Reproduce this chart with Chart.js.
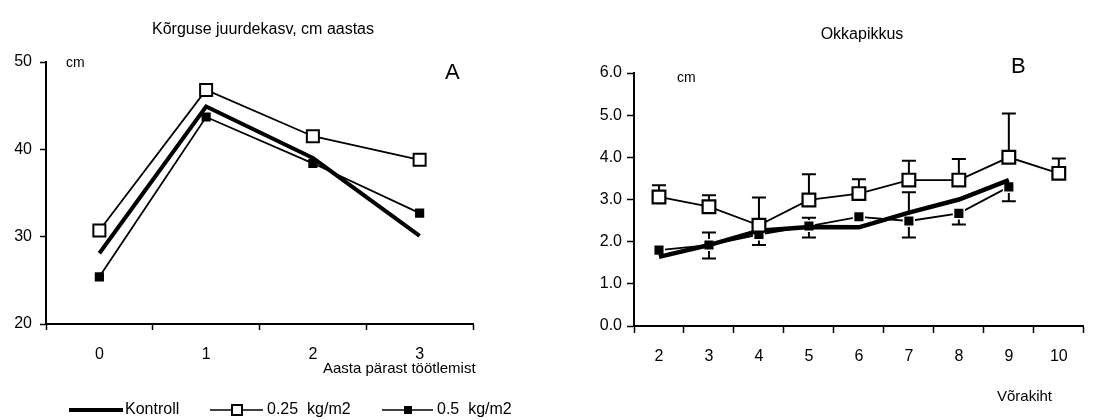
<!DOCTYPE html>
<html>
<head>
<meta charset="utf-8">
<script src="https://cdn.jsdelivr.net/npm/chart.js@4"></script>
<style>
  html, body { margin: 0; padding: 0; background: #fff; }
  #wrap { position: relative; width: 1095px; height: 420px; }
  canvas { position: absolute; top: 0; }
  #chartA { left: 0; }
  #chartB { left: 545px; }
</style>
</head>
<body>
<div id="wrap">
  <canvas id="chartA" width="545" height="420"></canvas>
  <canvas id="chartB" width="550" height="420"></canvas>
</div>
<script>
// A: height growth, cm per year
const yearsA = ['0', '1', '2', '3'];
const kontrollA = [28.1, 44.9, 39.0, 30.1];
const dose025A = [30.7, 46.8, 41.5, 38.8];
const dose05A = [25.4, 43.7, 38.4, 32.7];
const ticksA = [20, 30, 40, 50];

// B: needle length by crown layer
const layersB = ['2', '3', '4', '5', '6', '7', '8', '9', '10'];
const kontrollB = [1.64, 1.92, 2.26, 2.35, 2.34, 2.69, 3.0, 3.46, null];
const dose025B = [3.06, 2.83, 2.39, 2.99, 3.14, 3.46, 3.46, 4.0, 3.62];
const dose05B = [1.80, 1.92, 2.17, 2.37, 2.59, 2.49, 2.67, 3.30, null];
const err025Up = [0.28, 0.27, 0.66, 0.61, 0.34, 0.46, 0.50, 1.04, 0.35];
const err05Up = [null, 0.30, null, 0.20, null, 0.68, null, null, null];
const err05Down = [null, 0.32, 0.25, 0.27, null, 0.39, 0.26, 0.34, null];

const legendLabels = ['Kontroll', '0.25  kg/m2', '0.5  kg/m2'];
const FONT = "'Liberation Sans', Arial, sans-serif";
Chart.defaults.font.family = FONT;
Chart.defaults.color = '#000';

// error bars, drawn under the lines and markers
const errorBars = {
  id: 'errorBars',
  beforeDatasetsDraw(chart) {
    const ctx = chart.ctx;
    const ys = chart.scales.y;
    ctx.save();
    ctx.strokeStyle = '#000';
    ctx.lineWidth = 2;
    chart.data.datasets.forEach((ds, di) => {
      const meta = chart.getDatasetMeta(di);
      const draw = (arr, sign) => {
        if (!arr) return;
        arr.forEach((e, i) => {
          if (e == null || ds.data[i] == null) return;
          const x = meta.data[i].x;
          const y0 = ys.getPixelForValue(ds.data[i]);
          const y1 = ys.getPixelForValue(ds.data[i] + sign * e);
          ctx.beginPath();
          ctx.moveTo(x, y0);
          ctx.lineTo(x, y1);
          ctx.moveTo(x - 7, y1);
          ctx.lineTo(x + 7, y1);
          ctx.stroke();
        });
      };
      draw(ds.errUp, 1);
      draw(ds.errDown, -1);
    });
    ctx.restore();
  }
};

// fixed texts: title, unit, panel letter, axis title
const texts = {
  id: 'texts',
  afterDraw(chart, args, opts) {
    const ctx = chart.ctx;
    ctx.save();
    ctx.fillStyle = '#000';
    ctx.textBaseline = 'middle';
    (opts.items || []).forEach(t => {
      ctx.font = t.size + 'px ' + FONT;
      ctx.textAlign = t.align || 'left';
      ctx.fillText(t.text, t.x, t.y);
    });
    ctx.restore();
  }
};

// legend under panel A
const bottomLegend = {
  id: 'bottomLegend',
  afterDraw(chart) {
    const ctx = chart.ctx;
    const y = 410;
    ctx.save();
    ctx.strokeStyle = '#000';
    ctx.fillStyle = '#000';
    ctx.font = '16px ' + FONT;
    ctx.textBaseline = 'middle';
    // Kontroll
    ctx.lineWidth = 4;
    ctx.beginPath(); ctx.moveTo(69, y); ctx.lineTo(123, y); ctx.stroke();
    ctx.fillText(legendLabels[0], 125, y);
    // 0.25
    ctx.lineWidth = 1.5;
    ctx.beginPath(); ctx.moveTo(210, y); ctx.lineTo(263, y); ctx.stroke();
    ctx.fillStyle = '#fff';
    ctx.lineWidth = 2;
    ctx.fillRect(232, y - 5, 10, 10);
    ctx.strokeRect(232, y - 5, 10, 10);
    ctx.fillStyle = '#000';
    ctx.fillText(legendLabels[1], 267, y);
    // 0.5
    ctx.lineWidth = 1.5;
    ctx.beginPath(); ctx.moveTo(382, y); ctx.lineTo(433, y); ctx.stroke();
    ctx.fillRect(404, y - 4, 8, 8);
    ctx.fillText(legendLabels[2], 437, y);
    ctx.restore();
  }
};

function axisOpts(extra) {
  return Object.assign({
    grid: { drawOnChartArea: false, color: '#000', tickLength: 6, tickWidth: 1.5 },
    border: { color: '#000', width: 2 },
    ticks: { color: '#000', font: { size: 16 } }
  }, extra);
}

new Chart(document.getElementById('chartA'), {
  type: 'line',
  data: {
    labels: yearsA,
    datasets: [
      { label: legendLabels[0], data: kontrollA, borderColor: '#000', borderWidth: 4, pointRadius: 0, order: 1 },
      { label: legendLabels[1], data: dose025A, borderColor: '#000', borderWidth: 1.8, pointStyle: 'rect',
        pointRadius: 8.5, pointBackgroundColor: '#fff', pointBorderColor: '#000', pointBorderWidth: 2, order: 0 },
      { label: legendLabels[2], data: dose05A, borderColor: '#000', borderWidth: 1.8, pointStyle: 'rect',
        pointRadius: 6.5, pointBackgroundColor: '#000', pointBorderColor: '#000', pointBorderWidth: 0, order: 2 }
    ]
  },
  options: {
    responsive: false,
    animation: false,
    layout: { padding: { left: 0, right: 72, top: 62, bottom: 0 } },
    plugins: {
      legend: { display: false },
      tooltip: { enabled: false },
      texts: { items: [
        { text: 'Kõrguse juurdekasv, cm aastas', x: 263, y: 30, size: 16, align: 'center' },
        { text: 'cm', x: 66, y: 63, size: 14 },
        { text: 'A', x: 445, y: 73, size: 22 },
        { text: 'Aasta pärast töötlemist', x: 323, y: 369, size: 15 }
      ] }
    },
    scales: {
      x: axisOpts({
        type: 'category', offset: true,
        grid: { drawOnChartArea: false, offset: true, color: '#000', tickLength: 6, tickWidth: 1.5 },
        ticks: { color: '#000', font: { size: 16 }, padding: 15, maxRotation: 0 },
        afterFit: s => { s.height = 96; }
      }),
      y: axisOpts({
        min: 20, max: 50,
        afterBuildTicks: s => { s.ticks = ticksA.map(v => ({ value: v })); },
        ticks: { color: '#000', font: { size: 16 }, padding: 8 },
        afterFit: s => { s.width = 46; }
      })
    }
  },
  plugins: [errorBars, texts, bottomLegend]
});

new Chart(document.getElementById('chartB'), {
  type: 'line',
  data: {
    labels: layersB,
    datasets: [
      { label: legendLabels[0], data: kontrollB, borderColor: '#000', borderWidth: 4.5, pointRadius: 0, order: 1 },
      { label: legendLabels[1], data: dose025B, errUp: err025Up, borderColor: '#000', borderWidth: 1.8, pointStyle: 'rect',
        pointRadius: 9, pointBackgroundColor: '#fff', pointBorderColor: '#000', pointBorderWidth: 2.2, order: 0 },
      { label: legendLabels[2], data: dose05B, errUp: err05Up, errDown: err05Down, borderColor: '#000', borderWidth: 1.8,
        pointStyle: 'rect', pointRadius: 7.5, pointBackgroundColor: '#000', pointBorderColor: '#fff', pointBorderWidth: 1.5, order: 2 }
    ]
  },
  options: {
    responsive: false,
    animation: false,
    layout: { padding: { left: 0, right: 11, top: 73, bottom: 0 } },
    plugins: {
      legend: { display: false },
      tooltip: { enabled: false },
      texts: { items: [
        { text: 'Okkapikkus', x: 317, y: 35, size: 16, align: 'center' },
        { text: 'cm', x: 132, y: 78, size: 14 },
        { text: 'B', x: 466, y: 67, size: 22 },
        { text: 'Võrakiht', x: 452, y: 397, size: 15 }
      ] }
    },
    scales: {
      x: axisOpts({
        type: 'category', offset: true,
        grid: { drawOnChartArea: false, offset: true, color: '#000', tickLength: 7, tickWidth: 1.5 },
        ticks: { color: '#000', font: { size: 16 }, padding: 14, maxRotation: 0 },
        afterFit: s => { s.height = 94; }
      }),
      y: axisOpts({
        min: 0, max: 6,
        grid: { drawOnChartArea: false, color: '#000', tickLength: 7, tickWidth: 1.5 },
        ticks: { color: '#000', font: { size: 16 }, padding: 5, stepSize: 1, callback: v => Number(v).toFixed(1) },
        afterFit: s => { s.width = 89; }
      })
    }
  },
  plugins: [errorBars, texts]
});
</script>
</body>
</html>
